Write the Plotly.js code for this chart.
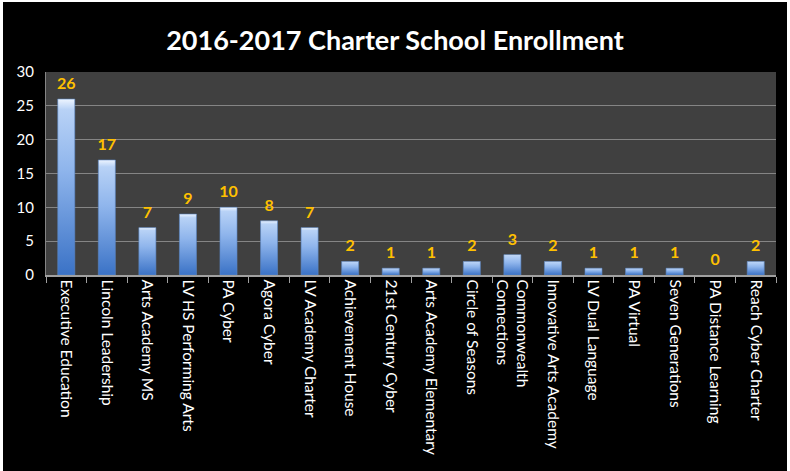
<!DOCTYPE html>
<html>
<head>
<meta charset="utf-8">
<script src="https://cdn.plot.ly/plotly-3.0.1.min.js"></script>
<style>
html,body{margin:0;padding:0;background:#ffffff;}
#wrap{position:absolute;left:3px;top:2px;width:784px;height:469px;background:#000;}
#chart{width:784px;height:469px;}
</style>
</head>
<body>
<div id="wrap"><div id="chart"></div></div>
<script>
const schools = [
  "Executive Education","Lincoln Leadership","Arts Academy MS","LV HS Performing Arts",
  "PA Cyber","Agora Cyber","LV Academy Charter","Achievement House","21st Century Cyber",
  "Arts Academy Elementary","Circle of Seasons","Commonwealth<br>Connections",
  "Innovative Arts Academy","LV Dual Language","PA Virtual","Seven Generations",
  "PA Distance Learning","Reach Cyber Charter"
];
const enrollment = [26,17,7,9,10,8,7,2,1,1,2,3,2,1,1,1,0,2];
const yTicks = [0,5,10,15,20,25,30];

const FONT = "Lato, 'Open Sans', sans-serif";

const trace = {
  type: "bar",
  x: schools,
  y: enrollment,
  text: enrollment.map(String),
  textposition: "outside",
  constraintext: "none",
  cliponaxis: false,
  textfont: {family: FONT, size: 16, color: "#FFC000", weight: 700},
  marker: {color: "#6b9de0", line: {width: 0}},
  hoverinfo: "none"
};

const layout = {
  width: 784, height: 469,
  paper_bgcolor: "#000000",
  plot_bgcolor: "#404040",
  margin: {l: 43, r: 11, t: 70, b: 196, pad: 0},
  bargap: 0.58,
  showlegend: false,
  title: {
    text: "<b>2016-2017 Charter School Enrollment</b>",
    font: {family: FONT, size: 27, color: "#ffffff"},
    x: 0.5, xanchor: "center", y: 0.918, yanchor: "middle"
  },
  xaxis: {
    type: "category",
    tickangle: 90,
    tickfont: {family: FONT, size: 15.5, color: "#ffffff"},
    ticks: "outside", ticklen: 6, tickcolor: "#a0a0a0", tickson: "boundaries",
    showline: true, linecolor: "#a0a0a0", linewidth: 1.5,
    showgrid: false, automargin: false
  },
  yaxis: {
    range: [0, 30],
    tickvals: yTicks,
    ticktext: yTicks.map(String),
    tickfont: {family: FONT, size: 15, color: "#ffffff"},
    showgrid: true, gridcolor: "#858585", gridwidth: 1,
    showline: true, linecolor: "#858585", linewidth: 1,
    zeroline: false,
    ticks: "", ticklabelstandoff: 8,
    automargin: false
  }
};

Plotly.newPlot("chart", [trace], layout, {displayModeBar: false, staticPlot: true}).then(gd => {
  const svg = gd.querySelector("svg.main-svg");
  const ns = "http://www.w3.org/2000/svg";
  let defs = svg.querySelector("defs");
  if (!defs) { defs = document.createElementNS(ns, "defs"); svg.insertBefore(defs, svg.firstChild); }
  const g = document.createElementNS(ns, "linearGradient");
  g.setAttribute("id", "barGrad");
  g.setAttribute("x1", "0"); g.setAttribute("y1", "0");
  g.setAttribute("x2", "0"); g.setAttribute("y2", "1");
  [["0", "#eef5ff"], ["0.06", "#b8d2f6"], ["0.4", "#8fb5ec"], ["1", "#3a72c6"]].forEach(([o, c]) => {
    const s = document.createElementNS(ns, "stop");
    s.setAttribute("offset", o); s.setAttribute("stop-color", c);
    g.appendChild(s);
  });
  defs.appendChild(g);
  gd.querySelectorAll(".barlayer .point path").forEach(p => {
    p.style.fill = "url(#barGrad)";
    p.style.stroke = "#5a86c4"; p.style.strokeWidth = "0.6px";
  });
  // lift the value labels a little above the bars, as in the reference
  gd.querySelectorAll(".barlayer .point text").forEach(t => {
    const tr = t.getAttribute("transform") || "";
    t.setAttribute("transform", "translate(0,-4) " + tr);
  });
});
</script>
</body>
</html>
